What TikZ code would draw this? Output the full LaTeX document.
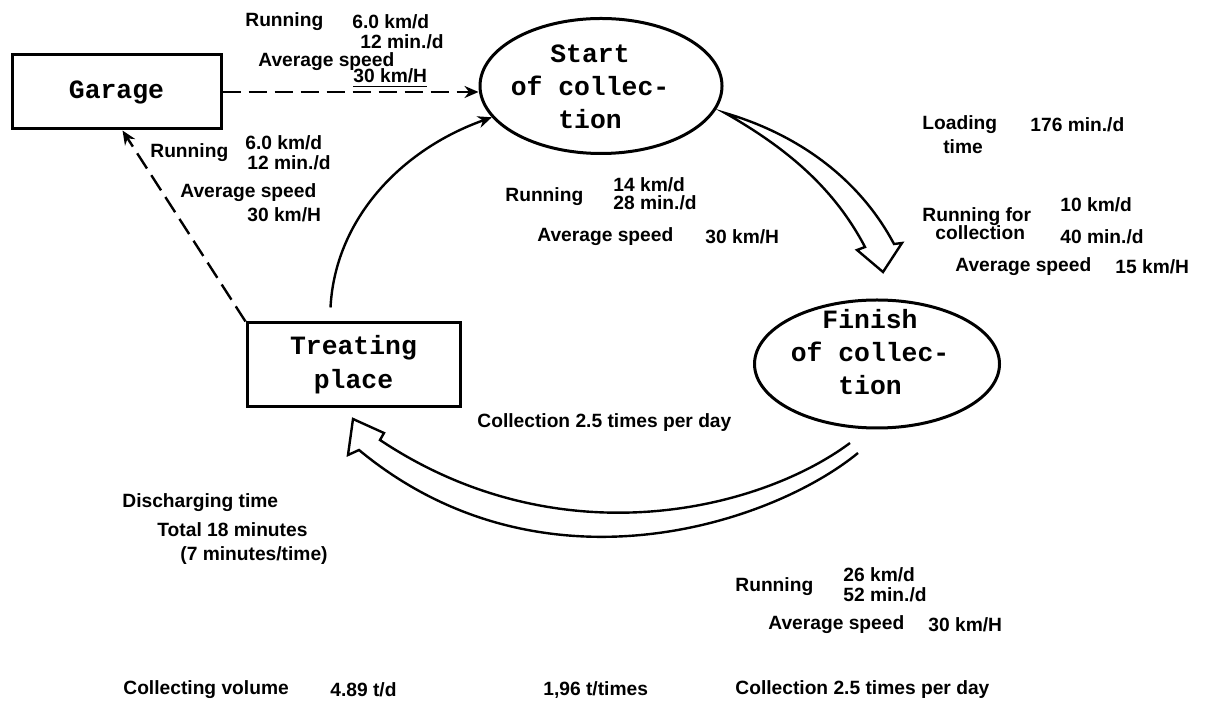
\documentclass[tikz,border=0pt]{standalone}
\usepackage{fontspec}
\setmainfont{Liberation Sans}
\newfontfamily\tw{Liberation Mono}
\usetikzlibrary{arrows.meta,shapes.geometric}
\begin{document}
\begin{tikzpicture}[x=0.5pt,y=-0.5pt,
 lbl/.style={font=\bfseries\fontsize{9.6}{11}\selectfont, anchor=west, inner sep=0pt},
 box/.style={draw, line width=1.5pt, inner sep=0pt, font=\tw\bfseries\fontsize{13.2}{17}\selectfont, align=center},
 ell/.style={draw, ellipse, line width=1.5pt, inner sep=0pt},
 etxt/.style={font=\tw\bfseries\fontsize{13.2}{16.5}\selectfont, align=center, inner sep=0pt},
 arr/.style={-{Stealth[length=7pt,width=6pt]}, line width=1.2pt},
 dsh/.style={arr, dash pattern=on 9pt off 4pt},
 hollow/.style={draw, line width=1.2pt, line join=miter}]

\useasboundingbox[fill=white] (0,0) rectangle (1213,704);

% main nodes
\node[box, minimum width=104.5pt, minimum height=37pt] (garage) at (116.5,92) {Garage};
\node[box, minimum width=106.5pt, minimum height=42pt] (treat) at (353.5,365) {Treating\\place};
\node[ell, minimum width=121pt, minimum height=67.5pt] (start) at (601,86) {};
\node[etxt] (starttxt) at (590,87) {Start\\of collec-\\tion};
\node[ell, minimum width=122.5pt, minimum height=64pt] (finish) at (877,364) {};
\node[etxt] (finishtxt) at (870,352) {Finish\\of collec-\\tion};

% connectors
\draw[dsh] (garage.east) -- (garage.east -| start.west);
\draw[dsh] (treat.north west) -- ([xshift=3pt]garage.south);
\draw[arr] ([xshift=-11.5pt,yshift=7pt]treat.north) .. controls (335,220) and (400,150) .. (start.196);

% hollow arrows
\draw[hollow, fill=white] (725,113) .. controls (800,135) and (860,180) .. (894,244) -- (902,243) -- (883,272) -- (857,250) -- (865,247) .. controls (835,190) and (790,150) .. cycle;
\draw[hollow] (850,443) .. controls (760,510) and (560,560) .. (380,440) -- (384,433) -- (353,419) -- (348,455) -- (359,450) .. controls (540,600) and (770,525) .. (858,453);

% labels
\node[lbl] (l1) at (245,22) {Running};
\node[lbl] (l2) at (352,22) {6.0 km/d};
\node[lbl] (l3) at (360,42) {12 min./d};
\node[lbl] (l4) at (258,62) {Average speed};
\node[lbl] (l5) at (353,78) {\underline{30 km/H}};

\node[lbl] (l6) at (150,153) {Running};
\node[lbl] (l7) at (245,143) {6.0 km/d};
\node[lbl] (l8) at (247,163) {12 min./d};
\node[lbl] (l9) at (180,193) {Average speed};
\node[lbl] (l10) at (247,215) {30 km/H};

\node[lbl] (l11) at (505,197) {Running};
\node[lbl] (l12) at (613,185) {14 km/d};
\node[lbl] (l13) at (613,203) {28 min./d};
\node[lbl] (l14) at (537,237) {Average speed};
\node[lbl] (l15) at (705,237) {30 km/H};

\node[lbl] (l16) at (922,125) {Loading};
\node[lbl, anchor=center] (l17) at (963,147) {time};
\node[lbl] (l18) at (1030,125) {176 min./d};
\node[lbl] (l19) at (922,217) {Running for};
\node[lbl] (l20) at (935,233) {collection};
\node[lbl] (l21) at (1060,205) {10 km/d};
\node[lbl] (l22) at (1060,237) {40 min./d};
\node[lbl] (l23) at (955,267) {Average speed};
\node[lbl] (l24) at (1115,267) {15 km/H};

\node[lbl] (l25) at (477,423) {Collection 2.5 times per day};

\node[lbl] (l26) at (122,503) {Discharging time};
\node[lbl] (l27) at (157,530) {Total 18 minutes};
\node[lbl] (l28) at (180,556) {(7 minutes/time)};

\node[lbl] (l29) at (735,587) {Running};
\node[lbl] (l30) at (843,575) {26 km/d};
\node[lbl] (l31) at (843,595) {52 min./d};
\node[lbl] (l32) at (768,625) {Average speed};
\node[lbl] (l33) at (928,625) {30 km/H};

\node[lbl] (l34) at (123,690) {Collecting volume};
\node[lbl] (l35) at (330,690) {4.89 t/d};
\node[lbl] (l36) at (543,690) {1,96 t/times};
\node[lbl] (l37) at (735,690) {Collection 2.5 times per day};
\end{tikzpicture}
\end{document}
